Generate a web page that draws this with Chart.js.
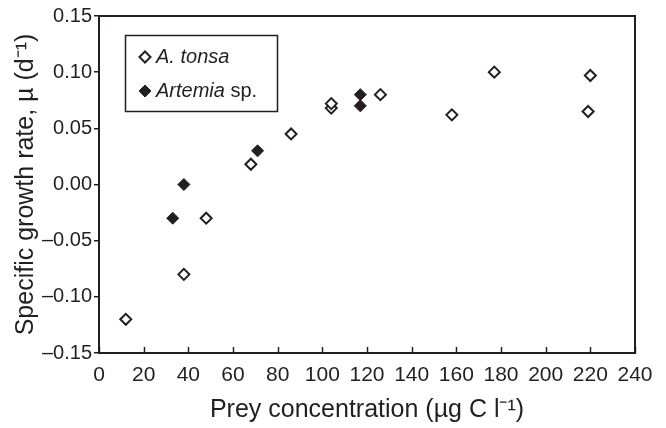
<!DOCTYPE html>
<html>
<head>
<meta charset="utf-8">
<script src="https://cdn.jsdelivr.net/npm/chart.js"></script>
<style>
  html, body { margin: 0; padding: 0; background: #fff; }
  #wrap { width: 666px; height: 428px; }
</style>
</head>
<body>
<div id="wrap"><canvas id="chart" width="666" height="428"></canvas></div>
<script>
// --- Data ---
const tonsaX   = [12, 38, 48, 68, 86, 104, 104, 126, 158, 177, 219, 220];
const tonsaY   = [-0.12, -0.08, -0.03, 0.018, 0.045, 0.068, 0.072, 0.080, 0.062, 0.100, 0.065, 0.097];
const artemiaX = [33, 38, 71, 117, 117];
const artemiaY = [-0.03, 0.00, 0.03, 0.07, 0.08];

const xTicks = [0, 20, 40, 60, 80, 100, 120, 140, 160, 180, 200, 220, 240];
const yTicks = [-0.15, -0.10, -0.05, 0.00, 0.05, 0.10, 0.15];

const xTitle = 'Prey concentration (µg C l⁻¹)';
const yTitle = 'Specific growth rate, µ (d⁻¹)';

const INK = '#231f20';
const FONT = "'Liberation Sans', Arial, Helvetica, sans-serif";

const toPoints = (xs, ys) => xs.map((x, i) => ({ x, y: ys[i] }));
const fmtY = v => (v < 0 ? '–' : '') + Math.abs(v).toFixed(2);

// legend marker, same shape as chart's rectRot
function diamond(ctx, x, y, r, fill, lw) {
  ctx.beginPath();
  ctx.moveTo(x - r, y); ctx.lineTo(x, y - r); ctx.lineTo(x + r, y); ctx.lineTo(x, y + r);
  ctx.closePath();
  ctx.fillStyle = fill; ctx.fill();
  ctx.lineWidth = lw; ctx.strokeStyle = INK; ctx.stroke();
}

// --- frame around plot + inward x ticks ---
const framePlugin = {
  id: 'frame',
  beforeDatasetsDraw(chart) {
    const { ctx, chartArea: a, scales: { x } } = chart;
    ctx.save();
    ctx.strokeStyle = INK;
    ctx.lineWidth = 1.5;
    xTicks.forEach(v => {
      const px = Math.round(x.getPixelForValue(v)) + 0.5;
      ctx.beginPath(); ctx.moveTo(px, a.bottom); ctx.lineTo(px, a.bottom - 6); ctx.stroke();
    });
    ctx.lineWidth = 2;
    ctx.strokeRect(a.left, a.top, a.right - a.left, a.bottom - a.top);
    ctx.restore();
  }
};

// --- legend box inside plot, mixed italic/roman text ---
const legendPlugin = {
  id: 'boxLegend',
  afterDraw(chart) {
    const ctx = chart.ctx;
    const bx = 125.5, by = 35.5, bw = 152, bh = 76;
    ctx.save();
    ctx.lineWidth = 1.5; ctx.strokeStyle = INK;
    ctx.strokeRect(bx, by, bw, bh);
    ctx.textBaseline = 'middle';

    diamond(ctx, 145, 57, 5.5, '#fff', 2);
    ctx.font = 'italic 20px ' + FONT;
    ctx.fillStyle = INK;
    ctx.fillText('A. tonsa', 156, 57);

    diamond(ctx, 145, 91, 6, INK, 1);
    ctx.fillStyle = INK;
    ctx.font = 'italic 20px ' + FONT;
    ctx.fillText('Artemia', 156, 91);
    const w = ctx.measureText('Artemia').width;
    ctx.font = '20px ' + FONT;
    ctx.fillText(' sp.', 156 + w, 91);
    ctx.restore();
  }
};

new Chart(document.getElementById('chart'), {
  type: 'scatter',
  data: {
    datasets: [
      {
        label: 'A. tonsa',
        data: toPoints(tonsaX, tonsaY),
        pointStyle: 'rectRot',
        pointRadius: 5.5,
        pointBorderWidth: 2,
        pointBackgroundColor: '#fff',
        pointBorderColor: INK
      },
      {
        label: 'Artemia sp.',
        data: toPoints(artemiaX, artemiaY),
        pointStyle: 'rectRot',
        pointRadius: 6,
        pointBorderWidth: 1,
        pointBackgroundColor: INK,
        pointBorderColor: INK
      }
    ]
  },
  options: {
    responsive: false,
    animation: false,
    layout: { padding: { left: 0, right: 31, top: 16, bottom: 0 } },
    plugins: { legend: { display: false }, tooltip: { enabled: false } },
    scales: {
      x: {
        type: 'linear', min: 0, max: 240,
        afterBuildTicks: s => { s.ticks = xTicks.map(v => ({ value: v })); },
        afterFit: s => { s.height = 75; },
        grid: { display: false, drawTicks: false },
        border: { display: true, color: INK, width: 2 },
        ticks: { color: INK, padding: 10, font: { family: FONT, size: 21 }, maxRotation: 0, autoSkip: false },
        title: { display: true, text: xTitle, color: INK, padding: { top: 0, bottom: 3 }, font: { family: FONT, size: 25 } }
      },
      y: {
        type: 'linear', min: -0.15, max: 0.15,
        afterBuildTicks: s => { s.ticks = yTicks.map(v => ({ value: v })); },
        afterFit: s => { s.width = 99; },
        grid: { drawOnChartArea: false, drawTicks: true, tickLength: 5, color: INK, lineWidth: 1.5 },
        border: { display: true, color: INK, width: 2 },
        ticks: { color: INK, padding: 2, font: { family: FONT, size: 20 }, callback: v => fmtY(v) },
        title: { display: true, text: yTitle, color: INK, padding: { top: 11, bottom: 0 }, font: { family: FONT, size: 25 } }
      }
    }
  },
  plugins: [framePlugin, legendPlugin]
});
</script>
</body>
</html>
